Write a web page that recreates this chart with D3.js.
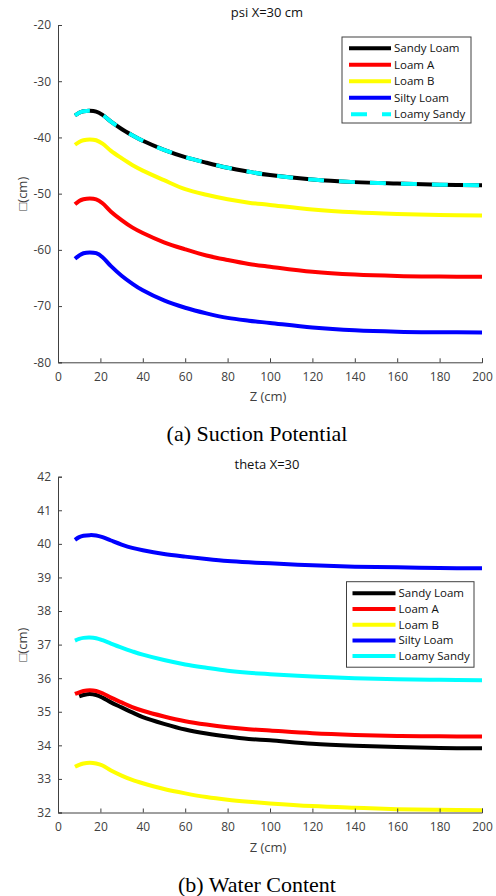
<!DOCTYPE html>
<html>

<head>
    <meta charset="utf-8">
    <title>Suction Potential and Water Content</title>
    <script src="https://d3js.org/d3.v7.min.js"></script>
    <style>
        body {
            margin: 0;
            padding: 0;
            background: #fff;
        }

        svg text {
            font-family: "Open Sans", sans-serif;
        }
    </style>
</head>

<body>
    <script>
        // depth values (cm) the curves are sampled at
        var zVals = [8, 10, 12, 15, 18, 21, 25, 30, 35, 40, 50, 60, 70, 80, 90, 100, 120, 140, 160, 180, 200];

        var soils = ["Sandy Loam", "Loam A", "Loam B", "Silty Loam", "Loamy Sandy"];
        var colors = ["#000000", "#ff0000", "#ffff00", "#0000ff", "#00ffff"];

        // (a) suction potential psi, X = 30 cm
        var psiSandyLoam = [-36.1, -35.6, -35.35, -35.25, -35.4, -36.0, -37.2, -38.5, -39.6, -40.6, -42.2, -43.5, -44.5, -45.4, -46.1, -46.7, -47.5, -47.95, -48.2, -48.4, -48.5];
        var psiLoamA = [-51.9, -51.3, -51.0, -50.85, -51.0, -51.7, -53.2, -54.7, -56.0, -57.0, -58.65, -59.9, -61.0, -61.8, -62.5, -63.0, -63.9, -64.4, -64.65, -64.75, -64.8];
        var psiLoamB = [-41.3, -40.8, -40.5, -40.35, -40.5, -41.1, -42.4, -43.7, -44.9, -45.9, -47.6, -49.2, -50.2, -51.0, -51.6, -52.0, -52.8, -53.3, -53.6, -53.8, -53.9];
        var psiSiltyLoam = [-61.6, -61.0, -60.6, -60.45, -60.6, -61.3, -62.9, -64.6, -66.0, -67.2, -69.0, -70.3, -71.3, -72.1, -72.6, -73.0, -73.8, -74.3, -74.55, -74.65, -74.7];
        var psiLoamySandy = [-36.1, -35.6, -35.35, -35.25, -35.4, -36.0, -37.2, -38.5, -39.6, -40.6, -42.2, -43.5, -44.5, -45.4, -46.1, -46.7, -47.5, -47.95, -48.2, -48.4, -48.5];

        // (b) water content theta, X = 30
        var thSandyLoam = [null, 35.46, 35.5, 35.53, 35.5, 35.42, 35.28, 35.13, 34.98, 34.84, 34.64, 34.47, 34.35, 34.26, 34.19, 34.15, 34.05, 33.99, 33.95, 33.92, 33.91];
        var thLoamA = [35.53, 35.58, 35.62, 35.64, 35.62, 35.55, 35.42, 35.28, 35.14, 35.03, 34.86, 34.72, 34.62, 34.54, 34.48, 34.44, 34.36, 34.31, 34.28, 34.27, 34.26];
        var thLoamB = [33.36, 33.42, 33.46, 33.48, 33.46, 33.4, 33.25, 33.1, 32.97, 32.87, 32.7, 32.57, 32.46, 32.38, 32.32, 32.27, 32.19, 32.14, 32.1, 32.08, 32.07];
        var thSiltyLoam = [40.12, 40.2, 40.24, 40.26, 40.25, 40.2, 40.1, 39.98, 39.88, 39.81, 39.7, 39.62, 39.55, 39.49, 39.45, 39.42, 39.36, 39.32, 39.3, 39.28, 39.27];
        var thLoamySandy = [37.12, 37.17, 37.2, 37.21, 37.19, 37.13, 37.03, 36.91, 36.8, 36.7, 36.54, 36.41, 36.31, 36.22, 36.16, 36.12, 36.05, 36.0, 35.97, 35.95, 35.94];

        var xTicks = d3.range(0, 201, 20);
        var psiTicks = d3.range(-80, -19, 10);
        var thTicks = d3.range(32, 43, 1);

        var W = 496, H = 896;
        var svg = d3.select("body").append("svg").attr("width", W).attr("height", H);

        function panel(cfg) {
            var g = svg.append("g");
            var x = d3.scaleLinear().domain([0, 200]).range([58, 482]);
            var y = d3.scaleLinear().domain(cfg.domain).range([cfg.bottom, cfg.top]);

            var line = d3.line()
                .defined(d => d[1] != null)
                .x(d => x(d[0]))
                .y(d => y(d[1]))
                .curve(d3.curveCatmullRom.alpha(0.5));

            cfg.series.forEach((s, i) => {
                g.append("path")
                    .datum(zVals.map((z, j) => [z, s[j]]))
                    .attr("d", line)
                    .attr("fill", "none")
                    .attr("stroke", colors[i])
                    .attr("stroke-width", 4)
                    .attr("stroke-dasharray", cfg.dashed && i == 4 ? "16,15" : null);
            });

            // axes, ticks inside like matlab
            var xa = g.append("g").attr("transform", "translate(0," + cfg.bottom + ")")
                .call(d3.axisBottom(x).tickValues(xTicks).tickSize(-4).tickPadding(10));
            var ya = g.append("g").attr("transform", "translate(58,0)")
                .call(d3.axisLeft(y).tickValues(cfg.ticks).tickSize(-4).tickPadding(7).tickFormat(d => String(d)));
            [xa, ya].forEach(a => {
                a.select(".domain").attr("stroke", "#404040").attr("stroke-width", 1);
                a.selectAll(".tick line").attr("stroke", "#404040");
                a.selectAll(".tick text").attr("fill", "#404040").style("font-size", "12px")
                    .style("font-family", "'Open Sans', sans-serif");
            });

            g.append("text").attr("x", 267).attr("y", cfg.top - 8)
                .attr("text-anchor", "middle").style("font-size", "13px").attr("fill", "#111")
                .text(cfg.title);
            g.append("text").attr("x", 268).attr("y", cfg.bottom + 39)
                .attr("text-anchor", "middle").style("font-size", "13px").attr("fill", "#404040")
                .text("Z (cm)");
            g.append("text")
                .attr("transform", "translate(27," + (cfg.top + cfg.bottom) / 2 + ") rotate(-90)")
                .attr("text-anchor", "middle").style("font-size", "13px").attr("fill", "#404040")
                .text("\u25A1(cm)");
            g.append("text").attr("x", 257).attr("y", cfg.bottom + 79)
                .attr("text-anchor", "middle")
                .style("font-family", "'Liberation Serif', 'Times New Roman', serif")
                .style("font-size", "22px").attr("fill", "#000")
                .text(cfg.caption);

            // legend
            var L = cfg.legend;
            var lg = g.append("g").attr("transform", "translate(" + L.x + "," + L.y + ")");
            lg.append("rect").attr("width", L.w).attr("height", L.h)
                .attr("fill", "#fff").attr("stroke", "#404040").attr("stroke-width", 1);
            soils.forEach((name, i) => {
                var ry = L.row0 + i * L.step;
                lg.append("line").attr("x1", L.lx1).attr("x2", L.lx2).attr("y1", ry).attr("y2", ry)
                    .attr("stroke", colors[i]).attr("stroke-width", 4)
                    .attr("stroke-dasharray", cfg.dashed && i == 4 ? "0,2,16,15,16,30" : null);
                lg.append("text").attr("x", L.lx2 + 3).attr("y", ry + 4)
                    .style("font-size", "11.5px").attr("fill", "#111").text(name);
            });
        }

        panel({
            domain: [-80, -20], top: 25, bottom: 362.3, ticks: psiTicks,
            series: [psiSandyLoam, psiLoamA, psiLoamB, psiSiltyLoam, psiLoamySandy],
            dashed: true, title: "psi X=30 cm", caption: "(a) Suction Potential",
            legend: { x: 342, y: 37, w: 129, h: 86, row0: 11.3, step: 16.5, lx1: 7, lx2: 49 }
        });
        panel({
            domain: [32, 42], top: 476.7, bottom: 812.5, ticks: thTicks,
            series: [thSandyLoam, thLoamA, thLoamB, thSiltyLoam, thLoamySandy],
            dashed: false, title: "theta X=30", caption: "(b) Water Content",
            legend: { x: 346.5, y: 581.7, w: 127.5, h: 85.5, row0: 11.6, step: 15.7, lx1: 6, lx2: 49 }
        });
    </script>
</body>

</html>
